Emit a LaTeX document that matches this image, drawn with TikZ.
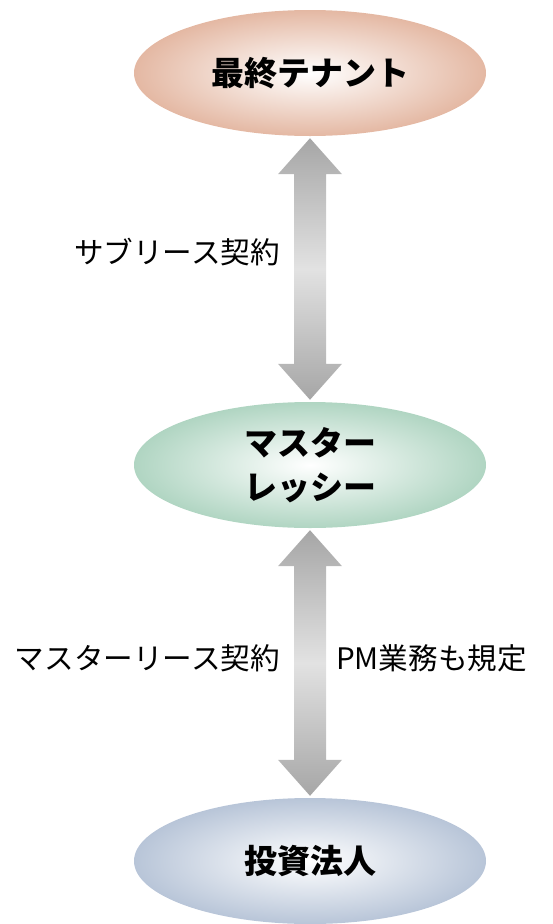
\documentclass[tikz,border=0pt]{standalone}
\usepackage{fontspec}
\setmainfont{Noto Sans CJK JP}
\usetikzlibrary{shapes.geometric,calc}
\definecolor{peach}{RGB}{228,184,163}
\definecolor{mint}{RGB}{176,213,194}
\definecolor{steel}{RGB}{184,197,216}
\definecolor{arrdark}{RGB}{166,166,166}
\definecolor{arrlight}{RGB}{226,226,226}
\tikzset{
  party/.style={ellipse, minimum width=352pt, minimum height=126pt, inner sep=0pt,
    align=center, font=\fontsize{33}{44}\selectfont\bfseries, text=black},
  label/.style={inner sep=0pt, font=\fontsize{29.6}{34}\selectfont, text=black},
  bigarrow/.style={top color=arrdark, bottom color=arrdark, middle color=arrlight, draw=none}
}
\newcommand{\dblarrow}[2]{%
  \path[bigarrow] let \p1=(#1.south), \p2=(#2.north) in
    (\x1,\y1-2) -- (\x1+32,\y1-38) -- (\x1+16,\y1-38) -- (\x1+16,\y2+38)
    -- (\x1+32,\y2+38) -- (\x1,\y2+2) -- (\x1-32,\y2+38) -- (\x1-16,\y2+38)
    -- (\x1-16,\y1-38) -- (\x1-32,\y1-38) -- cycle;}
\begin{document}
\begin{tikzpicture}[x=1pt,y=1pt]
\useasboundingbox (0,0) rectangle (552,-924);
\node[party, shade, inner color=white, outer color=peach] (tenant) at (310,-73) {最終テナント};
\node[party, shade, inner color=white, outer color=mint] (master) at (310,-465) {マスター\\レッシー};
\node[party, shade, inner color=white, outer color=steel] (fund) at (310,-861) {投資法人};
\dblarrow{tenant}{master}
\dblarrow{master}{fund}
\node[label, anchor=east] (sub) at (280,-252) {サブリース契約};
\node[label, anchor=east] (ml) at (280,-658) {マスターリース契約};
\node[label, anchor=west] (pm) at (336,-658) {PM業務も規定};
\end{tikzpicture}
\end{document}
